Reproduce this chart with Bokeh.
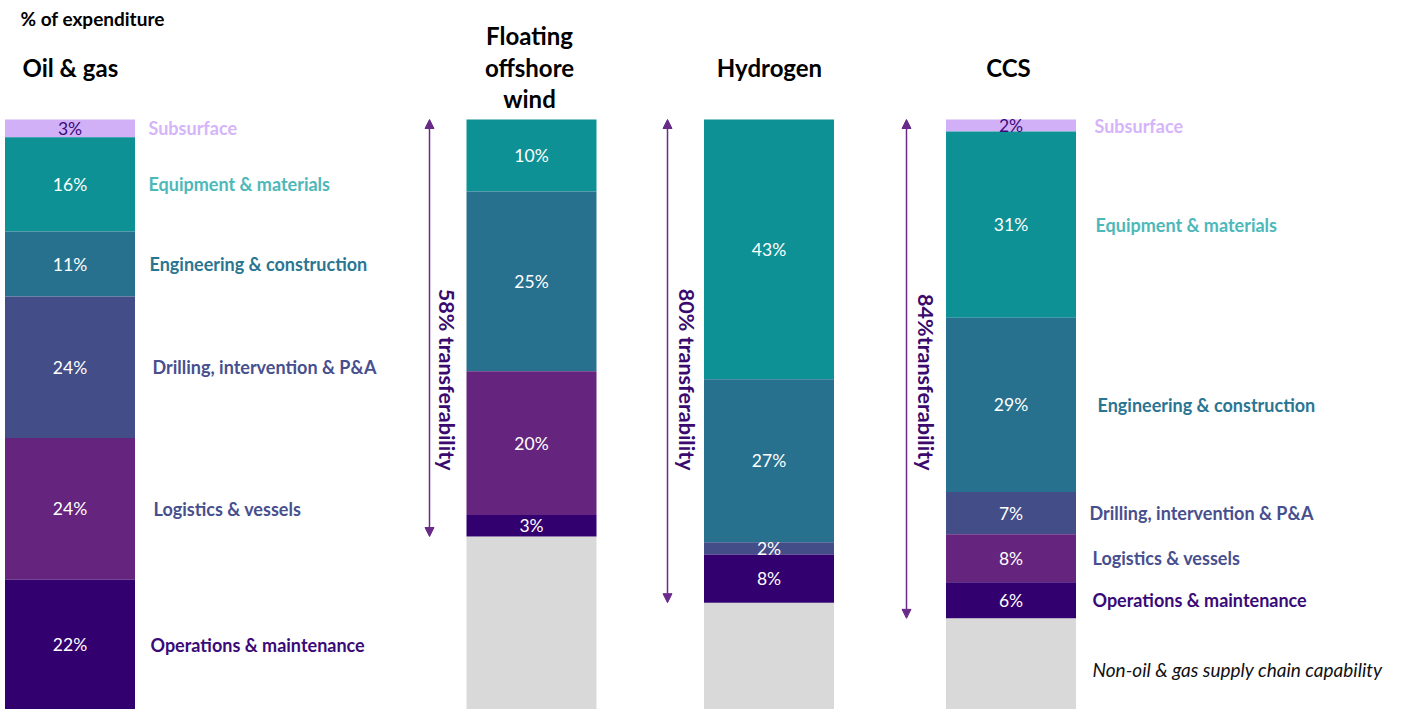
import math
from bokeh.plotting import figure
from bokeh.models import Range1d, ColumnDataSource, Arrow, NormalHead
from bokeh.core.properties import value
from bokeh.embed import file_html
from bokeh.resources import INLINE

# ---- data -------------------------------------------------------------
segments = [
    "Subsurface",
    "Equipment & materials",
    "Engineering & construction",
    "Drilling, intervention & P&A",
    "Logistics & vessels",
    "Operations & maintenance",
]
bars = ["Oil & gas", "Floating offshore wind", "Hydrogen", "CCS"]
bar_titles = [["Oil & gas"], ["Floating", "offshore", "wind"], ["Hydrogen"], ["CCS"]]

oil_gas = [3, 16, 11, 24, 24, 22]
floating_wind = [0, 10, 25, 0, 20, 3]
hydrogen = [0, 43, 27, 2, 0, 8]
ccs = [2, 31, 29, 7, 8, 6]
shares = [oil_gas, floating_wind, hydrogen, ccs]

transfer_labels = [None, "58% transferability", "80% transferability", "84%transferability"]
other_label = "Non-oil & gas supply chain capability"

# ---- styling ----------------------------------------------------------
seg_colors = ["#D2B0F8", "#0E9194", "#27718F", "#434E88", "#65247E", "#33006F"]
name_colors = ["#D5B4F9", "#4DB8BA", "#2A7592", "#474F8E", "#474F8E", "#3A0A78"]
grey = "#D9D9D9"
arrow_color = "#6A2A8A"
transfer_color = "#3A0A6E"
FONT = "Lato"

W, H = 1401, 709
TOP = 119                      # pixel row where every bar starts
bar_x = [69.5, 531, 768.5, 1010.5]
bar_w = 130
px_per_pct = [5.9, 7.19, 6.04, 6.01]
arrow_x = [None, 429, 667, 906]
transfer_x = [None, 446, 686, 925]
og_name_x = [148, 148, 149, 152, 153, 150]
ccs_name_x = [1094, 1095, 1097, 1089, 1092, 1092]

p = figure(width=W, height=H, output_backend="svg", toolbar_location=None,
           x_range=Range1d(0, W), y_range=Range1d(H, 0), min_border=0)
p.axis.visible = False
p.grid.visible = False
p.outline_line_color = None
p.background_fill_color = "white"
p.border_fill_color = "white"

# one vertical scale per bar (percent measured downward from the bar top)
for i, s in enumerate(px_per_pct):
    p.extra_y_ranges[f"b{i}"] = Range1d((H - TOP) / s, -TOP / s)

for i, vals in enumerate(shares):
    rn = f"b{i}"
    tops, bottoms, cols, mids, labels, tcols = [], [], [], [], [], []
    cum = 0
    for j, v in enumerate(vals):
        if v == 0:
            continue
        tops.append(cum)
        bottoms.append(cum + v)
        mids.append(cum + v / 2)
        cols.append(seg_colors[j])
        labels.append(f"{v}%")
        tcols.append("#3A0A78" if j == 0 else "white")
        cum += v
    src = ColumnDataSource(dict(x=[bar_x[i]] * len(tops), top=tops, bottom=bottoms,
                                color=cols, mid=mids, label=labels, tcol=tcols))
    # remaining, non-transferable share
    if cum < 100:
        p.vbar(x=bar_x[i], width=bar_w, top=cum, bottom=100, fill_color=grey,
               line_color=None, y_range_name=rn)
    p.vbar(x="x", width=bar_w, top="top", bottom="bottom", fill_color="color",
           line_color=None, source=src, y_range_name=rn)
    p.text(x="x", y="mid", text="label", text_color="tcol", source=src,
           y_range_name=rn, text_align="center", text_baseline="middle",
           text_font=value(FONT), text_font_size="17.5px")

    # transferability arrow and rotated label
    if transfer_labels[i]:
        head = dict(size=9, fill_color=arrow_color, line_color=arrow_color)
        p.add_layout(Arrow(start=NormalHead(**head), end=NormalHead(**head),
                           x_start=arrow_x[i], x_end=arrow_x[i], y_start=0, y_end=cum,
                           y_range_name=rn, line_color=arrow_color, line_width=1.5))
        p.text(x=[transfer_x[i]], y=[470], text=[transfer_labels[i]], angle=-math.pi / 2,
               text_align="right", text_baseline="middle", text_color=transfer_color,
               text_font=value(FONT), text_font_style="bold", text_font_size="21.5px")

# segment names beside Oil & gas
cum = 0
og_mid = []
for v in oil_gas:
    og_mid.append(cum + v / 2)
    cum += v
p.text(x=og_name_x, y=og_mid, text=segments, text_color=name_colors, y_range_name="b0",
       text_align="left", text_baseline="middle", text_font=value(FONT),
       text_font_style="bold", text_font_size="18px")

# segment names beside CCS
cum = 0
ccs_mid = []
for v in ccs:
    ccs_mid.append(cum + v / 2)
    cum += v
p.text(x=ccs_name_x, y=ccs_mid, text=segments, text_color=name_colors, y_range_name="b3",
       text_align="left", text_baseline="middle", text_font=value(FONT),
       text_font_style="bold", text_font_size="18px")
p.text(x=[1092], y=[(cum + 100) / 2], text=[other_label], y_range_name="b3",
       text_color="#111111", text_align="left", text_baseline="middle",
       text_font=value(FONT), text_font_style="italic", text_font_size="19px")

# headings
p.text(x=[20], y=[18], text=["% of expenditure"], text_align="left",
       text_baseline="middle", text_color="black", text_font=value(FONT),
       text_font_style="bold", text_font_size="19px")
p.text(x=[22], y=[67], text=bar_titles[0], text_align="left", text_baseline="middle",
       text_color="black", text_font=value(FONT), text_font_style="bold",
       text_font_size="24px")
title_cx = [None, 529, 769, 1008]
for i in range(1, 4):
    lines = bar_titles[i]
    ys = [67] if len(lines) == 1 else [35, 67, 98]
    p.text(x=[title_cx[i]] * len(lines), y=ys, text=lines, text_align="center",
           text_baseline="middle", text_color="black", text_font=value(FONT),
           text_font_style="bold", text_font_size="24px")

open("out.html", "w").write(file_html(p, INLINE))
